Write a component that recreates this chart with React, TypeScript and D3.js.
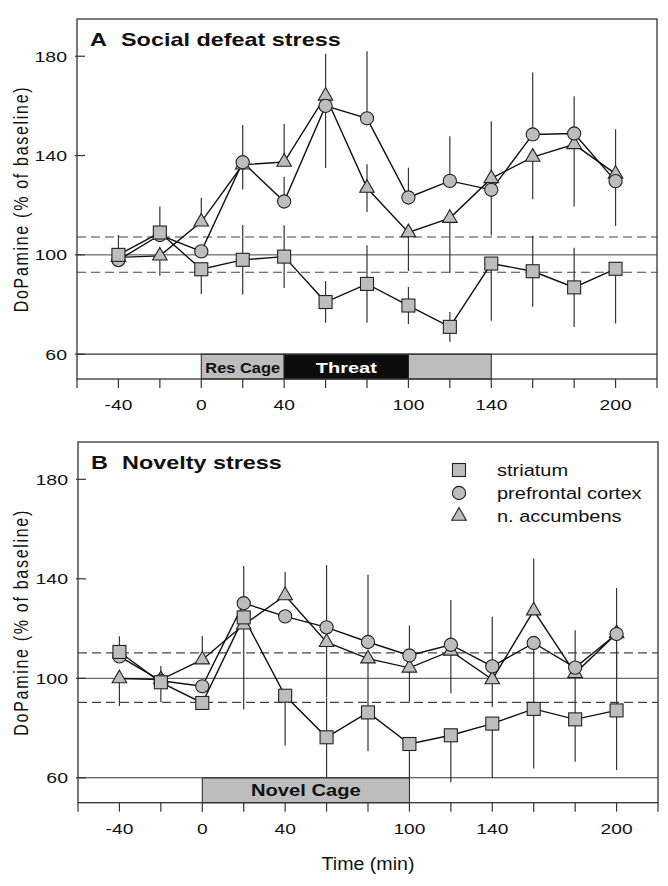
import React from "react";
import * as d3 from "d3";

// ---------- data ----------
const times = [-40, -20, 0, 20, 40, 60, 80, 100, 120, 140, 160, 180, 200];
const xTickLabels = [-40, 0, 40, 100, 140, 200];
const yTicks = [60, 100, 140, 180];

// Panel A: social defeat stress
const aStriatum = [100, 109, 94.2, 98, 99.3, 81, 88.3, 79.6, 71, 96.5, 93.4, 86.9, 94.4];
const aStriatumUp = [8, 10.5, 0, 14, 12.6, 8.4, 15.6, 7.5, 6, 0, 14.3, 16, 0];
const aStriatumDn = [0, 0, 10, 14, 12.6, 8.4, 15.6, 7.5, 6, 23, 14.3, 16, 22];
const aPrefrontal = [97.9, 108, 101.4, 137.3, 121.5, 160, 155, 123.1, 129.8, 126.2, 148.5, 148.9, 129.7];
const aPrefrontalUp = [0, 0, 0, 15, 10, 0, 27, 12, 18, 0, 25, 15, 0];
const aPrefrontalDn = [0, 0, 0, 11, 0, 25, 0, 0, 0, 0, 0, 0, 0];
const aAccumbens = [99, 99.6, 113.3, 136.3, 137.4, 164, 126.9, 109, 114.8, 130.8, 139.4, 144.5, 132.6];
const aAccumbensUp = [0, 0, 9.6, 0, 15.3, 17, 9.6, 0, 0, 23, 0, 0, 18];
const aAccumbensDn = [0, 8, 0, 0, 0, 0, 9.6, 15.5, 22, 23, 17, 25, 21];
const aDashed = [107.2, 93];

// Panel B: novelty stress
const bStriatum = [110.6, 98.4, 90.1, 124.5, 93, 76.3, 86.3, 73.6, 77.1, 81.8, 87.7, 83.5, 87.1];
const bStriatumUp = [6.3, 0, 0, 0, 0, 16, 15.6, 0, 0, 0, 24, 17, 24];
const bStriatumDn = [0, 8, 0, 0, 20, 16, 15.6, 14, 19, 22, 24, 17, 24];
const bPrefrontal = [108.8, 99, 96.8, 130.2, 124.9, 120.5, 114.6, 109.2, 113.5, 104.8, 114.2, 104.3, 117.8];
const bPrefrontalUp = [0, 6, 0, 15, 0, 25, 27, 12, 18, 20, 0, 15, 18.5];
const bPrefrontalDn = [0, 0, 0, 0, 0, 0, 0, 0, 0, 0, 0, 0, 18];
const bAccumbens = [99.9, 99.5, 107.5, 121.5, 133.3, 114.5, 107.9, 104.2, 111, 99.5, 127.2, 102, 118];
const bAccumbensUp = [0, 0, 9.4, 0, 9.4, 0, 0, 0, 0, 0, 21, 0, 0];
const bAccumbensDn = [11, 0, 0, 34, 0, 22, 6, 14, 17, 11, 0, 0, 0];
const bDashed = [110.2, 90.3];

const legendLabels = ["striatum", "prefrontal cortex", "n. accumbens"];

const aBars = [
  { from: 0, to: 40, label: "Res Cage", fill: "#bdbdbd", color: "#111", fs: 15.5, sx: 1.06 },
  { from: 40, to: 100, label: "Threat", fill: "#0d0d0d", color: "#fff", fs: 15.5, sx: 1.29 },
  { from: 100, to: 140, label: "", fill: "#bdbdbd", color: "#111", fs: 15.5, sx: 1 },
];
const bBars = [{ from: 0, to: 100, label: "Novel Cage", fill: "#bdbdbd", color: "#111", fs: 16, sx: 1.26 }];

const FONT = "'Liberation Sans', Arial, Helvetica, sans-serif";
const GRAY = "#bdbdbd";

type Shape = "square" | "circle" | "triangle";

function Marker({ shape, x, y }: { shape: Shape; x: number; y: number }) {
  if (shape === "square")
    return <rect x={x - 6.5} y={y - 6.5} width={13} height={13} fill={GRAY} stroke="#222" strokeWidth={1.1} />;
  if (shape === "circle") return <circle cx={x} cy={y} r={6.6} fill={GRAY} stroke="#222" strokeWidth={1.1} />;
  const p = d3.symbol().type(d3.symbolTriangle).size(92)();
  return <path d={p || ""} transform={`translate(${x},${y})`} fill={GRAY} stroke="#222" strokeWidth={1.1} />;
}

function T({
  x, y, size, sx = 1, anchor = "start", weight = "normal", fill = "#111", children,
}: any) {
  return (
    <text
      transform={`translate(${x},${y}) scale(${sx},1)`}
      fontFamily={FONT}
      fontSize={size}
      fontWeight={weight}
      textAnchor={anchor}
      fill={fill}
    >
      {children}
    </text>
  );
}

type Series = { shape: Shape; values: number[]; up: number[]; dn: number[] };

function Panel({
  left, right, top, bottom, letter, title, series, bars, dashed, legend,
}: {
  left: number; right: number; top: number; bottom: number; letter: string; title: string;
  series: Series[]; bars: any[]; dashed: number[]; legend: boolean;
}) {
  const x = d3.scaleLinear().domain([-60, 220]).range([left, right]);
  const y = d3.scaleLinear().domain([50, 195]).range([bottom, top]);
  const line = d3
    .line<number>()
    .x((_, i) => x(times[i]))
    .y((d) => y(d));
  const midY = (y(60) + y(50)) / 2;
  return (
    <g>
      {/* reference lines */}
      <line x1={left} x2={right} y1={y(100)} y2={y(100)} stroke="#444" strokeWidth={1} />
      {dashed.map((v, i) => (
        <line key={i} x1={left} x2={right} y1={y(v)} y2={y(v)} stroke="#444" strokeWidth={1.2} strokeDasharray="9,5" />
      ))}
      {/* condition bars */}
      {bars.map((b, i) => (
        <g key={i}>
          <rect x={x(b.from)} y={y(60)} width={x(b.to) - x(b.from)} height={y(50) - y(60)} fill={b.fill} stroke="#222" strokeWidth={1} />
          {b.label && (
            <T x={(x(b.from) + x(b.to)) / 2} y={midY + 6} size={b.fs} sx={b.sx} anchor="middle" weight="bold" fill={b.color}>
              {b.label}
            </T>
          )}
        </g>
      ))}
      <line x1={left} x2={right} y1={y(60)} y2={y(60)} stroke="#333" strokeWidth={1.1} />
      {/* error bars */}
      {series.map((s, si) =>
        s.values.map((v, i) =>
          s.up[i] || s.dn[i] ? (
            <line key={`${si}-${i}`} x1={x(times[i])} x2={x(times[i])} y1={y(v + s.up[i])} y2={y(v - s.dn[i])} stroke="#333" strokeWidth={1.2} />
          ) : null
        )
      )}
      {/* lines */}
      {series.map((s, si) => (
        <path key={si} d={line(s.values) || ""} fill="none" stroke="#111" strokeWidth={1.4} />
      ))}
      {/* markers */}
      {series.map((s, si) =>
        s.values.map((v, i) => <Marker key={`${si}-${i}`} shape={s.shape} x={x(times[i])} y={y(v)} />)
      )}
      {/* frame */}
      <rect x={left} y={top} width={right - left} height={bottom - top} fill="none" stroke="#333" strokeWidth={1.3} />
      {/* y ticks */}
      {yTicks.map((t) => (
        <g key={t}>
          <line x1={left - 2} x2={left + 8} y1={y(t)} y2={y(t)} stroke="#333" strokeWidth={1.2} />
          <T x={left - 10} y={y(t) + 5.5} size={15} sx={1.3} anchor="end">
            {t}
          </T>
        </g>
      ))}
      {/* x ticks */}
      {times.concat([-60, 220]).map((t) => (
        <line key={t} x1={x(t)} x2={x(t)} y1={bottom} y2={bottom + 9} stroke="#333" strokeWidth={1.2} />
      ))}
      {xTickLabels.map((t) => (
        <T key={t} x={x(t)} y={bottom + 31} size={15} sx={1.28} anchor="middle">
          {t}
        </T>
      ))}
      {/* title */}
      <T x={left + 13} y={top + 27} size={18} sx={1.3} weight="bold">
        {letter}
      </T>
      <T x={left + 44} y={top + 27} size={18} sx={1.3} weight="bold">
        {title}
      </T>
      {/* y label */}
      <text
        transform={`translate(28,${(top + bottom) / 2}) rotate(-90) scale(1,1.25)`}
        fontFamily={FONT}
        fontSize={16}
        textAnchor="middle"
        letterSpacing={1.7}
        fill="#111"
      >
        DoPamine (% of baseline)
      </text>
      {legend &&
        series
          .slice()
          .reverse()
          .map((s, i) => (
            <g key={i}>
              <Marker shape={s.shape} x={459} y={top + 28 + i * 23} />
              <T x={497} y={top + 34 + i * 23} size={16} sx={1.25}>
                {legendLabels[i]}
              </T>
            </g>
          ))}
    </g>
  );
}

export default function App() {
  const seriesA: Series[] = [
    { shape: "triangle", values: aAccumbens, up: aAccumbensUp, dn: aAccumbensDn },
    { shape: "circle", values: aPrefrontal, up: aPrefrontalUp, dn: aPrefrontalDn },
    { shape: "square", values: aStriatum, up: aStriatumUp, dn: aStriatumDn },
  ];
  const seriesB: Series[] = [
    { shape: "triangle", values: bAccumbens, up: bAccumbensUp, dn: bAccumbensDn },
    { shape: "circle", values: bPrefrontal, up: bPrefrontalUp, dn: bPrefrontalDn },
    { shape: "square", values: bStriatum, up: bStriatumUp, dn: bStriatumDn },
  ];
  return (
    <svg width={668} height={886} style={{ position: "absolute", left: 0, top: 0, background: "#fff" }}>
      <rect width={668} height={886} fill="#fff" />
      <Panel left={77} right={657} top={19} bottom={379} letter="A" title="Social defeat stress"
        series={seriesA} bars={aBars} dashed={aDashed} legend={false} />
      <Panel left={78} right={658} top={442} bottom={802.7} letter="B" title="Novelty stress"
        series={seriesB} bars={bBars} dashed={bDashed} legend={true} />
      <T x={368} y={870} size={18} sx={1.09} anchor="middle">
        Time (min)
      </T>
    </svg>
  );
}
